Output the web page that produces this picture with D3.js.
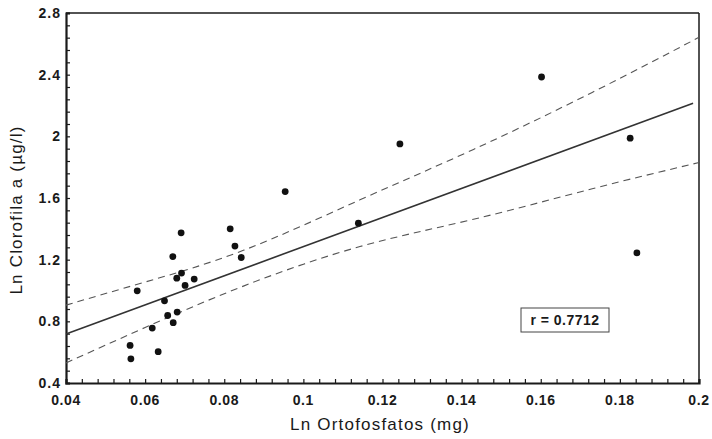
<!DOCTYPE html>
<html>
<head>
<meta charset="utf-8">
<script src="https://cdn.jsdelivr.net/npm/d3@7"></script>
<style>
  body { margin: 0; background: #fff; }
</style>
</head>
<body>
<div id="chart"></div>
<script>
// Ln Clorofila a vs Ln Ortofosfatos scatter with fit line and confidence band

// observed points
const xValues = [0.0562, 0.0564, 0.0580, 0.0618, 0.0633, 0.0649, 0.0657, 0.0670,
                 0.0671, 0.0680, 0.0681, 0.0691, 0.0692, 0.0701, 0.0724, 0.0815,
                 0.0827, 0.0843, 0.1139, 0.0954, 0.1244, 0.1602, 0.1826, 0.1843];
const yValues = [0.644, 0.557, 0.998, 0.756, 0.603, 0.933, 0.838, 1.220,
                 0.791, 1.080, 0.860, 1.374, 1.113, 1.033, 1.074, 1.400,
                 1.288, 1.214, 1.437, 1.642, 1.951, 2.385, 1.988, 1.244];

// regression line
const fitX = [0.04, 0.1985];
const fitY = [0.718, 2.215];

// confidence band
const bandX     = [0.04, 0.060, 0.0850, 0.1143, 0.1430, 0.1730, 0.20];
const bandUpper = [0.905, 1.055, 1.262, 1.588, 1.915, 2.285, 2.642];
const bandLower = [0.530, 0.760, 1.030, 1.285, 1.462, 1.660, 1.830];

// axis ticks
const xTicks = [0.04, 0.06, 0.08, 0.1, 0.12, 0.14, 0.16, 0.18, 0.2];
const yTicks = [0.4, 0.8, 1.2, 1.6, 2, 2.4, 2.8];

const rLabel = "r = 0.7712";
const xTitle = "Ln Ortofosfatos (mg)";
const yTitle = "Ln Clorofila a (\u00b5g/l)";

const svgWidth = 712, svgHeight = 439;
const plot = { left: 66, right: 699, top: 13, bottom: 383 };

const svg = d3.select("#chart")
    .append("svg")
    .attr("width", svgWidth)
    .attr("height", svgHeight);

const xScale = d3.scaleLinear().domain([0.04, 0.2]).range([plot.left, plot.right]);
const yScale = d3.scaleLinear().domain([0.4, 2.8]).range([plot.bottom, plot.top]);

const fmt = d3.format("~g");
const ink = "#1a1a1a";

// frame: top and right thinner
svg.append("line")
    .attr("x1", plot.left).attr("x2", plot.right)
    .attr("y1", plot.top).attr("y2", plot.top)
    .attr("stroke", ink).attr("stroke-width", 1.5);
svg.append("line")
    .attr("x1", plot.right).attr("x2", plot.right)
    .attr("y1", plot.top).attr("y2", plot.bottom)
    .attr("stroke", ink).attr("stroke-width", 1.5);

// minor ticks (inward)
const xMinor = d3.range(0, 41).map(i => 0.04 + i * 0.004);
const yMinor = d3.range(0, 31).map(i => 0.4 + i * 0.08);

const xAxisGroup = svg.append("g")
    .attr("transform", `translate(0,${plot.bottom})`)
    .call(d3.axisBottom(xScale).tickValues(xMinor).tickSize(-4).tickFormat(""));
xAxisGroup.select(".domain").attr("stroke", ink).attr("stroke-width", 2.2);
xAxisGroup.selectAll(".tick line").attr("stroke", ink).attr("stroke-width", 1.2);

const yAxisGroup = svg.append("g")
    .attr("transform", `translate(${plot.left},0)`)
    .call(d3.axisLeft(yScale).tickValues(yMinor).tickSize(-4).tickFormat(""));
yAxisGroup.select(".domain").attr("stroke", ink).attr("stroke-width", 2.2);
yAxisGroup.selectAll(".tick line").attr("stroke", ink).attr("stroke-width", 1.2);

// tick labels
svg.append("g")
    .selectAll("text")
    .data(xTicks)
    .enter()
    .append("text")
    .attr("x", d => xScale(d))
    .attr("y", plot.bottom + 22)
    .attr("text-anchor", "middle")
    .attr("font-family", "'Liberation Sans', Arial, sans-serif")
    .attr("font-weight", "bold")
    .attr("font-size", "14px")
    .attr("letter-spacing", "0.6px")
    .attr("fill", ink)
    .text(d => fmt(d));

svg.append("g")
    .selectAll("text")
    .data(yTicks)
    .enter()
    .append("text")
    .attr("x", plot.left - 5)
    .attr("y", d => yScale(d) + 5)
    .attr("text-anchor", "end")
    .attr("font-family", "'Liberation Sans', Arial, sans-serif")
    .attr("font-weight", "bold")
    .attr("font-size", "14px")
    .attr("letter-spacing", "1px")
    .attr("fill", ink)
    .text(d => fmt(d));

// axis titles
svg.append("text")
    .attr("x", 380)
    .attr("y", 430)
    .attr("text-anchor", "middle")
    .attr("font-family", "'Liberation Sans', Arial, sans-serif")
    .attr("font-size", "17px")
    .attr("letter-spacing", "1.2px")
    .attr("fill", ink)
    .text(xTitle);

svg.append("text")
    .attr("transform", "translate(22,210) rotate(-90)")
    .attr("text-anchor", "middle")
    .attr("font-family", "'Liberation Sans', Arial, sans-serif")
    .attr("font-size", "17px")
    .attr("letter-spacing", "1.2px")
    .attr("fill", ink)
    .text(yTitle);

// confidence band curves
const bandLine = d3.line()
    .x(d => xScale(d[0]))
    .y(d => yScale(d[1]))
    .curve(d3.curveNatural);

[bandUpper, bandLower].forEach(vals => {
    svg.append("path")
        .datum(bandX.map((x, i) => [x, vals[i]]))
        .attr("d", bandLine)
        .attr("fill", "none")
        .attr("stroke", "#555")
        .attr("stroke-width", 1.1)
        .attr("stroke-dasharray", "7,5");
});

// regression line
svg.append("path")
    .datum(fitX.map((x, i) => [x, fitY[i]]))
    .attr("d", d3.line().x(d => xScale(d[0])).y(d => yScale(d[1])))
    .attr("fill", "none")
    .attr("stroke", "#333")
    .attr("stroke-width", 1.6);

// points
svg.append("g")
    .selectAll("circle")
    .data(xValues.map((x, i) => [x, yValues[i]]))
    .enter()
    .append("circle")
    .attr("cx", d => xScale(d[0]))
    .attr("cy", d => yScale(d[1]))
    .attr("r", 3.4)
    .attr("fill", "#111");

// r label box
const rBox = svg.append("g").attr("transform", "translate(521,308)");
rBox.append("rect")
    .attr("width", 88)
    .attr("height", 24)
    .attr("fill", "#fff")
    .attr("stroke", "#444")
    .attr("stroke-width", 1);
rBox.append("text")
    .attr("x", 44)
    .attr("y", 17)
    .attr("text-anchor", "middle")
    .attr("font-family", "'Liberation Sans', Arial, sans-serif")
    .attr("font-weight", "bold")
    .attr("font-size", "14px")
    .attr("letter-spacing", "0.5px")
    .attr("fill", ink)
    .text(rLabel);
</script>
</body>
</html>
